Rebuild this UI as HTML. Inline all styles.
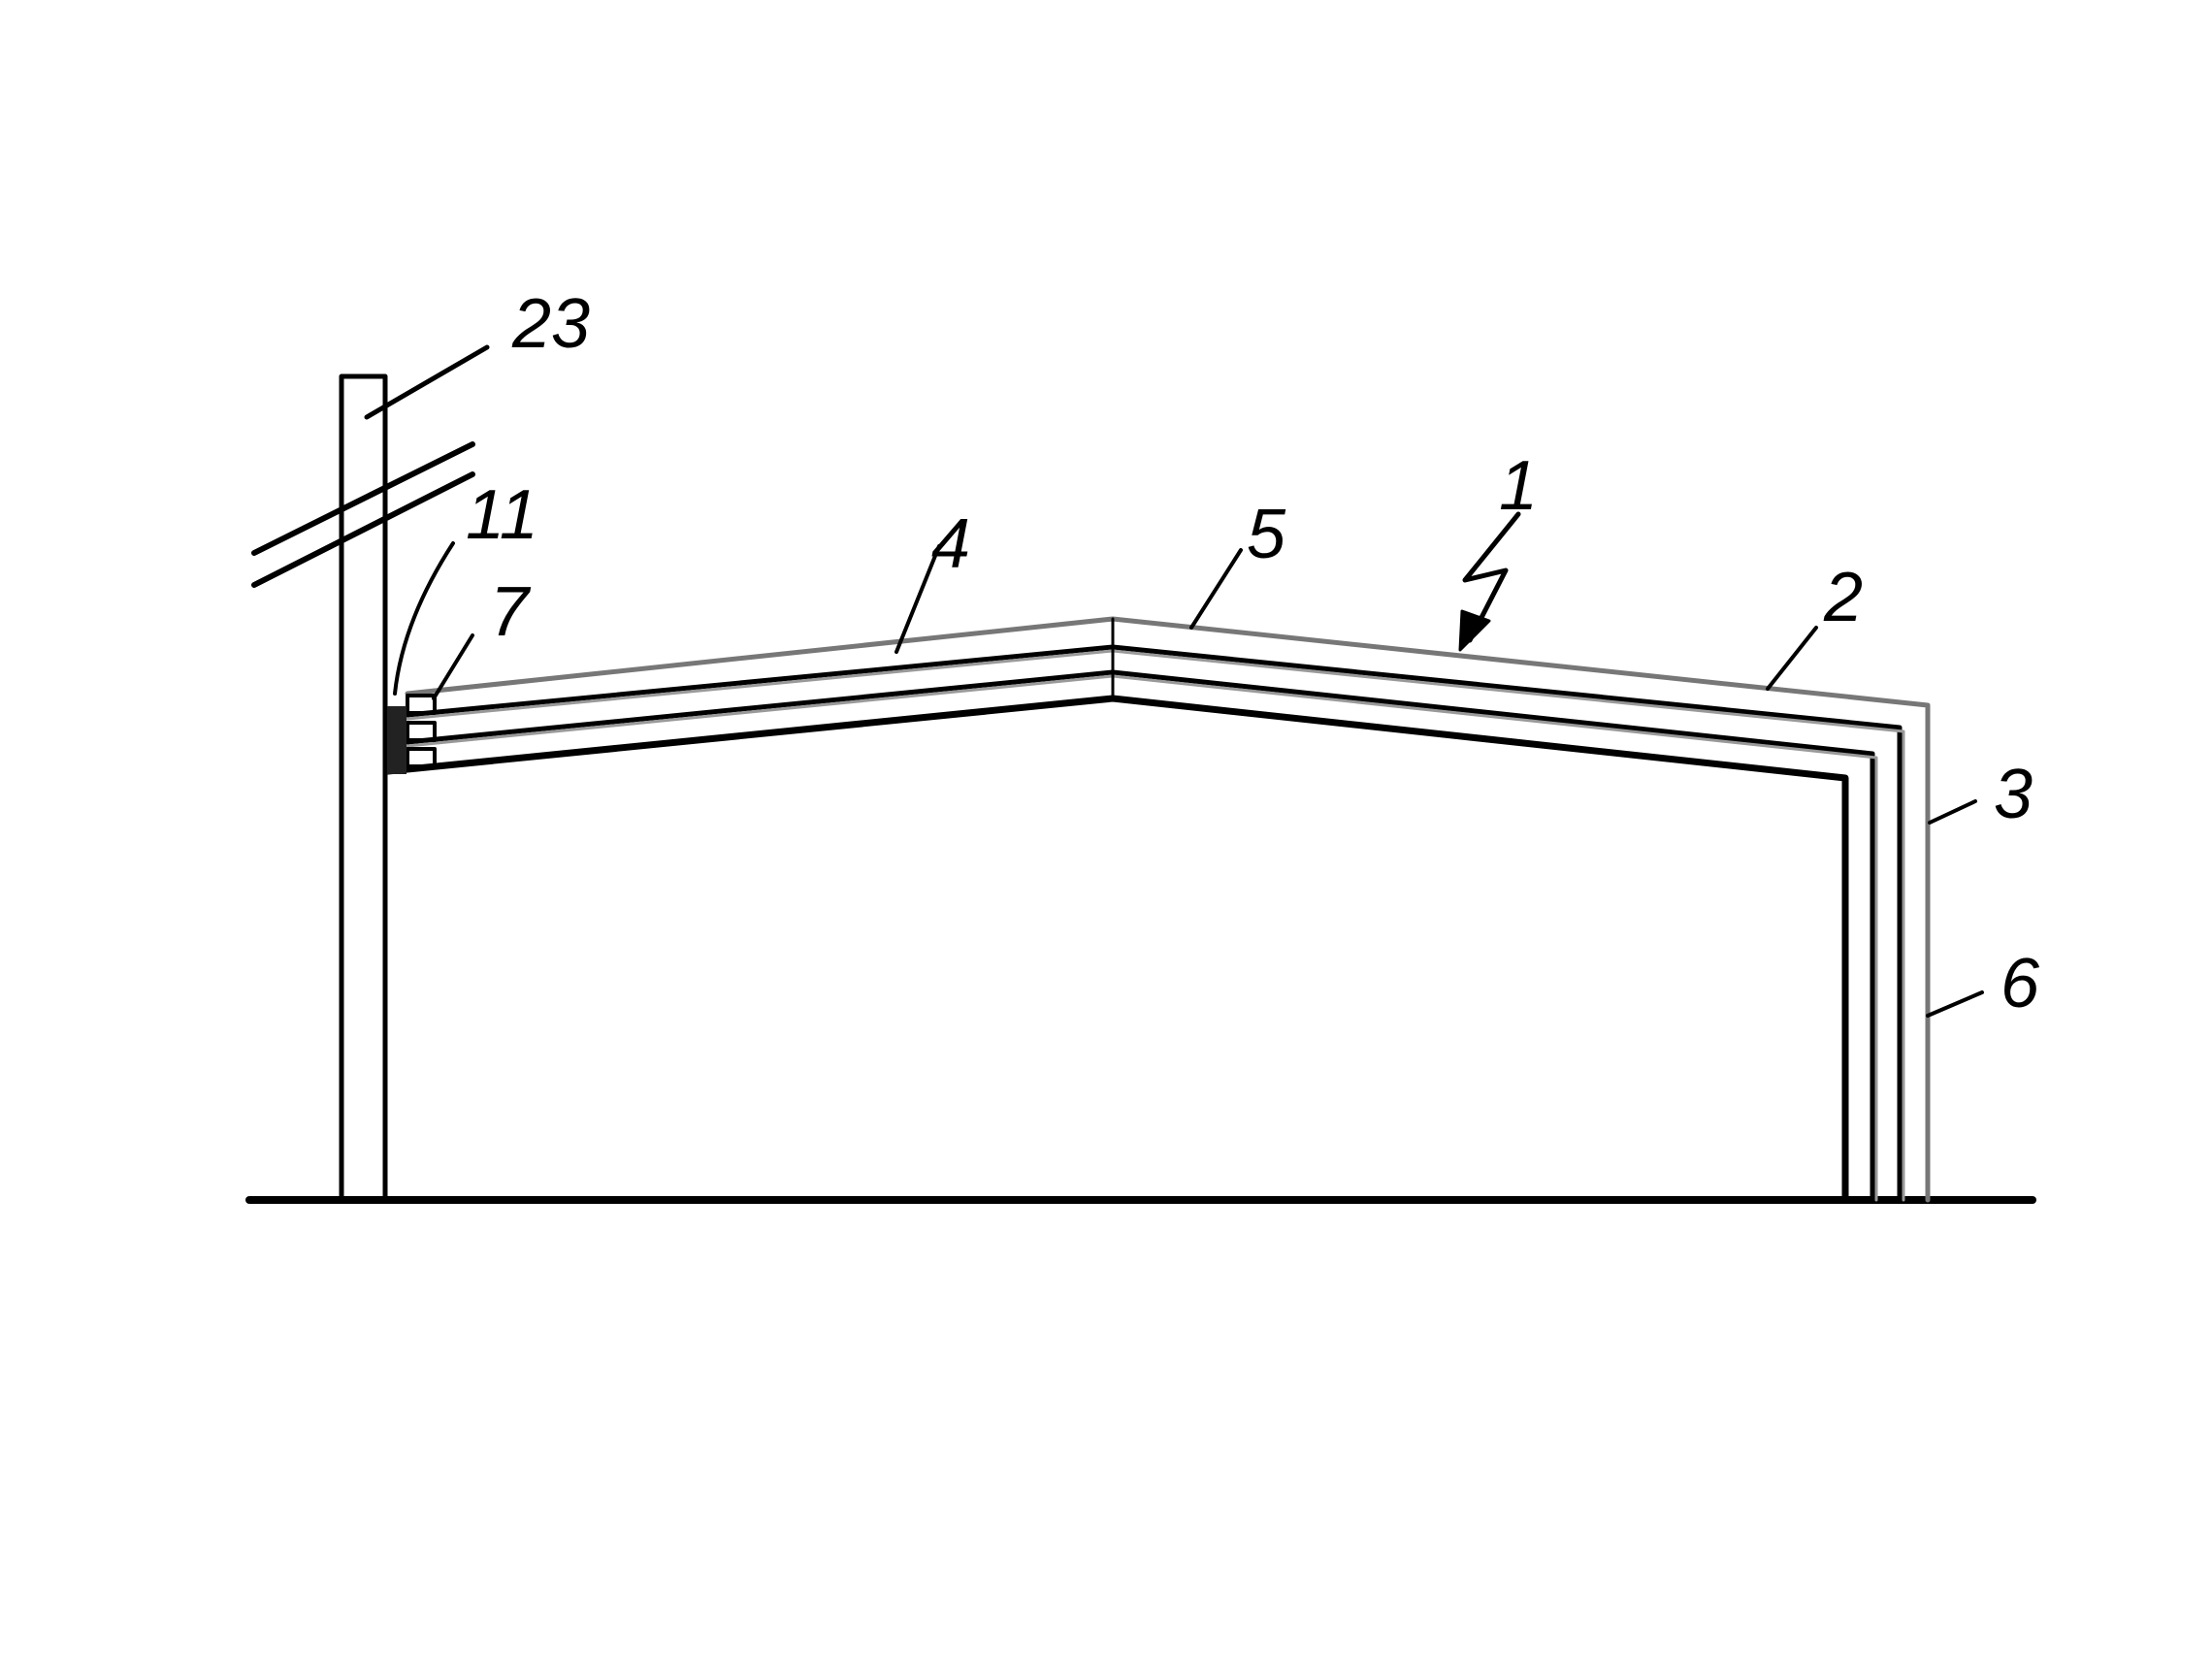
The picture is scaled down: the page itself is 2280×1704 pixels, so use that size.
<!DOCTYPE html>
<html><head><meta charset="utf-8"><style>html,body{margin:0;padding:0;background:#fff}svg{display:block}</style></head>
<body>
<svg width="2280" height="1704" viewBox="0 0 2280 1704" xmlns="http://www.w3.org/2000/svg">
<g fill="none" stroke-linecap="round" stroke-linejoin="round">
<!-- ground -->
<line x1="257" y1="1237" x2="2095" y2="1237" stroke="#000" stroke-width="8"/>
<!-- pole -->
<path d="M352 1237 V388 H397 V1237" stroke="#000" stroke-width="5"/>
<!-- break lines -->
<line x1="262" y1="570" x2="487" y2="458" stroke="#000" stroke-width="6"/>
<line x1="262" y1="603" x2="487" y2="489" stroke="#000" stroke-width="6"/>
<!-- roof layers -->
<path d="M420 715 L1147 638 L1987 727 V1237" stroke="#777" stroke-width="5"/>
<path d="M420 737 L1147 667 L1958 750 V1237" stroke="#000" stroke-width="5"/>
<path d="M420 741 L1147 671 L1962 754 V1237" stroke="#999" stroke-width="3"/>
<path d="M420 765 L1147 693 L1930 777 V1237" stroke="#000" stroke-width="5"/>
<path d="M420 769 L1147 697 L1934 781 V1237" stroke="#999" stroke-width="3"/>
<path d="M400 795 L1147 720 L1902 802 V1237" stroke="#000" stroke-width="7"/>
<line x1="1147" y1="638" x2="1147" y2="720" stroke="#000" stroke-width="3"/>
<!-- end blocks -->
<rect x="420" y="717" width="28" height="18" stroke="#000" stroke-width="4"/>
<rect x="420" y="745" width="28" height="18" stroke="#000" stroke-width="4"/>
<rect x="420" y="772" width="28" height="18" stroke="#000" stroke-width="4"/>
<rect x="399" y="728" width="20" height="70" fill="#222" stroke="none"/>
<!-- leaders -->
<line x1="378" y1="430" x2="502" y2="358" stroke="#000" stroke-width="5"/>
<path d="M467 560 Q415 640 407 715" stroke="#000" stroke-width="4"/>
<line x1="487" y1="655" x2="447" y2="720" stroke="#000" stroke-width="4"/>
<line x1="968" y1="563" x2="924" y2="672" stroke="#000" stroke-width="4"/>
<line x1="1279" y1="567" x2="1228" y2="647" stroke="#000" stroke-width="4"/>
<line x1="1872" y1="647" x2="1822" y2="710" stroke="#000" stroke-width="4"/>
<line x1="2036" y1="826" x2="1989" y2="848" stroke="#000" stroke-width="4"/>
<line x1="2043" y1="1023" x2="1987" y2="1047" stroke="#000" stroke-width="4"/>
<!-- arrow 1 -->
<path d="M1565 530 L1510 598 L1552 588 L1515 660" stroke="#000" stroke-width="5"/>
<path d="M1505 670 L1507 630 L1535 640 Z" fill="#000" stroke="#000" stroke-width="3"/>
</g>
<g font-family="Liberation Sans, sans-serif" font-style="italic" font-size="72" fill="#000">
<text x="528" y="358">23</text>
<text x="480" y="555">11</text>
<text x="505" y="655">7</text>
<text x="960" y="585">4</text>
<text x="1285" y="575">5</text>
<text x="1545" y="525">1</text>
<text x="1880" y="640">2</text>
<text x="2055" y="843">3</text>
<text x="2062" y="1038">6</text>
</g>
</svg>
</body></html>
